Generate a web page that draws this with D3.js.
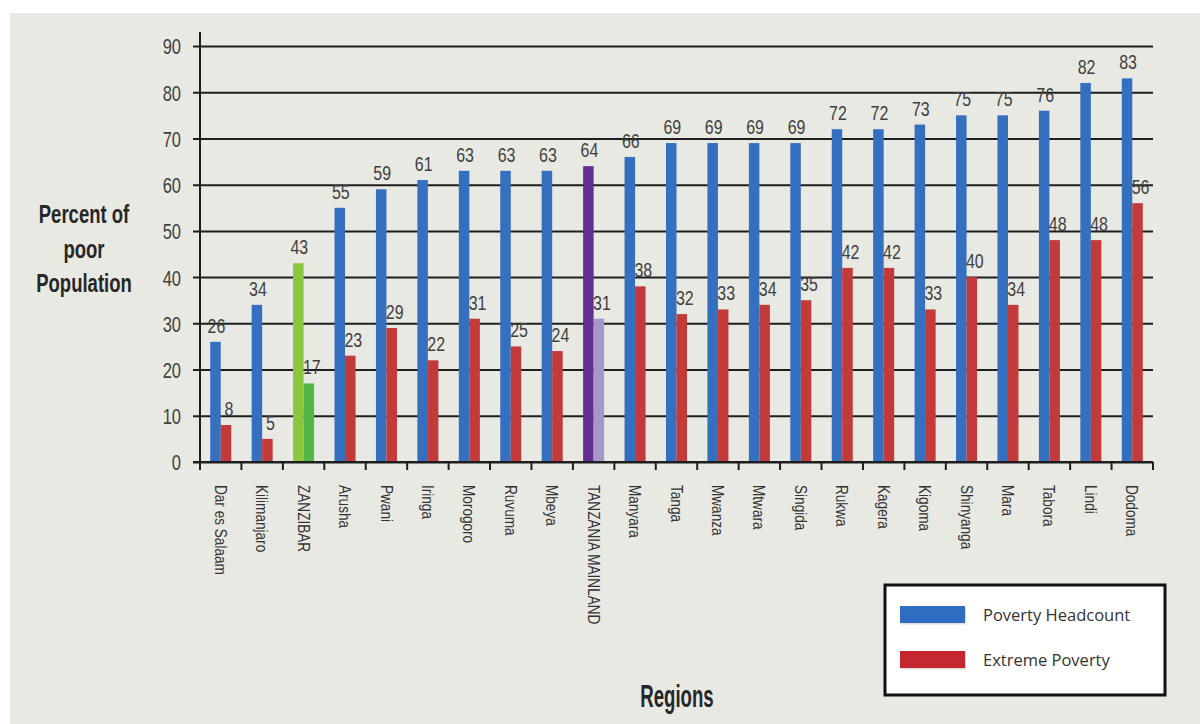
<!DOCTYPE html>
<html>
<head>
<meta charset="utf-8">
<script src="https://cdn.jsdelivr.net/npm/d3@7"></script>
<style>
  html, body { margin: 0; padding: 0; background: #ffffff; }
  svg { display: block; }
  .cond { font-family: "Liberation Sans", Arial, sans-serif; }
</style>
</head>
<body>
<svg id="chart" width="1200" height="724"></svg>
<script>
// Regions, ordered by poverty headcount (national figures in the middle)
const regions = ["Dar es Salaam", "Kilimanjaro", "ZANZIBAR", "Arusha", "Pwani", "Iringa",
  "Morogoro", "Ruvuma", "Mbeya", "TANZANIA MAINLAND", "Manyara", "Tanga", "Mwanza",
  "Mtwara", "Singida", "Rukwa", "Kagera", "Kigoma", "Shinyanga", "Mara", "Tabora",
  "Lindi", "Dodoma"];

// Percent of population below the basic needs poverty line
const headcount = [26, 34, 43, 55, 59, 61, 63, 63, 63, 64, 66, 69, 69, 69, 69, 72, 72, 73, 75, 75, 76, 82, 83];

// Percent of population below the food poverty line
const extreme = [8, 5, 17, 23, 29, 22, 31, 25, 24, 31, 38, 32, 33, 34, 35, 42, 42, 33, 40, 34, 48, 48, 56];

const yTicks = [0, 10, 20, 30, 40, 50, 60, 70, 80, 90];
const seriesKeys = ["Poverty Headcount", "Extreme Poverty"];

// Default series colours, with distinct pairs for Zanzibar and the mainland total
const seriesColors = ["#356fc0", "#c23a3a"];
const legendColors = ["#2f6cc2", "#c4282e"];
const specialColors = {
  "ZANZIBAR": ["#8cc63f", "#4fb847"],
  "TANZANIA MAINLAND": ["#652c91", "#a597c9"]
};

const svg = d3.select("#chart");

// Panel background
svg.append("rect").attr("x", 10).attr("y", 13).attr("width", 1190).attr("height", 711)
  .attr("fill", "#e9e9e4");

const plot = { left: 200, right: 1153, top: 46, bottom: 462 };

const x = d3.scaleBand().domain(regions).range([plot.left, plot.right]).paddingInner(0).paddingOuter(0);
const xs = d3.scaleBand().domain(seriesKeys).range([0, x.bandwidth()]).paddingInner(0).paddingOuter(0.97);
const y = d3.scaleLinear().domain([0, 90]).range([plot.bottom, plot.top]);

// Horizontal gridlines with y-axis ticks
const yAxis = d3.axisLeft(y).tickValues(yTicks).tickSize(0).tickPadding(12);
const gy = svg.append("g").attr("transform", `translate(${plot.left - 7},0)`).call(yAxis);
gy.select(".domain").remove();
gy.selectAll(".tick line").attr("stroke", "#1e1e1e").attr("stroke-width", 2)
  .attr("x1", 0).attr("x2", plot.right - plot.left + 7);
gy.selectAll(".tick text")
  .attr("class", "cond").attr("font-size", 22).attr("fill", "#404040")
  .attr("x", null).attr("dy", "0.36em")
  .attr("transform", "translate(-12,0) scale(0.75,1)");

// Bars
const rows = regions.map((r, i) => ({ region: r, values: [headcount[i], extreme[i]] }));
const groups = svg.append("g").selectAll("g").data(rows).join("g")
  .attr("transform", d => `translate(${x(d.region)},0)`);

groups.selectAll("rect").data(d => d.values.map((v, k) => ({ region: d.region, key: seriesKeys[k], k, v })))
  .join("rect")
  .attr("x", d => xs(d.key))
  .attr("width", xs.bandwidth())
  .attr("y", d => y(d.v))
  .attr("height", d => y(0) - y(d.v))
  .attr("fill", d => (specialColors[d.region] || seriesColors)[d.k]);

// Value labels
groups.selectAll("text").data(d => d.values.map((v, k) => ({ key: seriesKeys[k], k, v })))
  .join("text")
  .attr("class", "cond")
  .attr("transform", d => `translate(${xs(d.key) + xs.bandwidth() / 2 + (d.k === 1 ? 3 : 1)},${y(d.v) - 9}) scale(0.76,1)`)
  .attr("text-anchor", "middle")
  .attr("font-size", 21)
  .attr("fill", "#404040")
  .text(d => d.v);

// Y axis line
svg.append("line").attr("x1", plot.left).attr("x2", plot.left).attr("y1", 32).attr("y2", plot.bottom)
  .attr("stroke", "#1e1e1e").attr("stroke-width", 2);

// X axis with ticks at the category boundaries
const gx = svg.append("g").attr("transform", `translate(0,${plot.bottom})`);
gx.append("line").attr("x1", plot.left - 7).attr("x2", plot.right).attr("y1", 0).attr("y2", 0)
  .attr("stroke", "#1e1e1e").attr("stroke-width", 2);
const bounds = regions.map(r => x(r)).concat([plot.right]);
gx.selectAll("line.tk").data(bounds).join("line").attr("class", "tk")
  .attr("x1", d => d).attr("x2", d => d).attr("y1", 0).attr("y2", 8)
  .attr("stroke", "#1e1e1e").attr("stroke-width", 2);

// Rotated category labels
gx.selectAll("text").data(regions).join("text")
  .attr("class", "cond")
  .attr("transform", d => `translate(${x(d) + x.bandwidth() / 2},23) rotate(90) scale(0.8,1)`)
  .attr("dy", "0.35em")
  .attr("font-size", 17)
  .attr("fill", "#333333")
  .text(d => d);

// Axis titles
["Percent of", "poor", "Population"].forEach((t, i) => {
  svg.append("text").attr("class", "cond").attr("text-anchor", "middle")
    .attr("transform", `translate(84,${223 + i * 34.5}) scale(0.74,1)`)
    .attr("font-size", 25).attr("font-weight", "bold").attr("fill", "#262626").text(t);
});
svg.append("text").attr("class", "cond")
  .attr("transform", "translate(677,707) scale(0.6,1)")
  .attr("text-anchor", "middle").attr("font-size", 31).attr("font-weight", "bold")
  .attr("fill", "#262626").text("Regions");

// Legend
const lg = svg.append("g");
lg.append("rect").attr("x", 885).attr("y", 585).attr("width", 280).attr("height", 110)
  .attr("fill", "#ffffff").attr("stroke", "#111111").attr("stroke-width", 3);
seriesKeys.forEach((k, i) => {
  const yy = 606 + i * 45;
  lg.append("rect").attr("x", 901).attr("y", yy + 1.5).attr("width", 65).attr("height", 17)
    .attr("fill", "#9a9a9a").attr("opacity", 0.35);
  lg.append("rect").attr("x", 900).attr("y", yy).attr("width", 65).attr("height", 17)
    .attr("fill", legendColors[i]);
  lg.append("text").attr("x", 983).attr("y", yy + 15)
    .attr("font-family", "'Open Sans', 'Noto Sans', sans-serif").attr("font-size", 16.5)
    .attr("fill", "#333333").text(k);
});
</script>
</body>
</html>
